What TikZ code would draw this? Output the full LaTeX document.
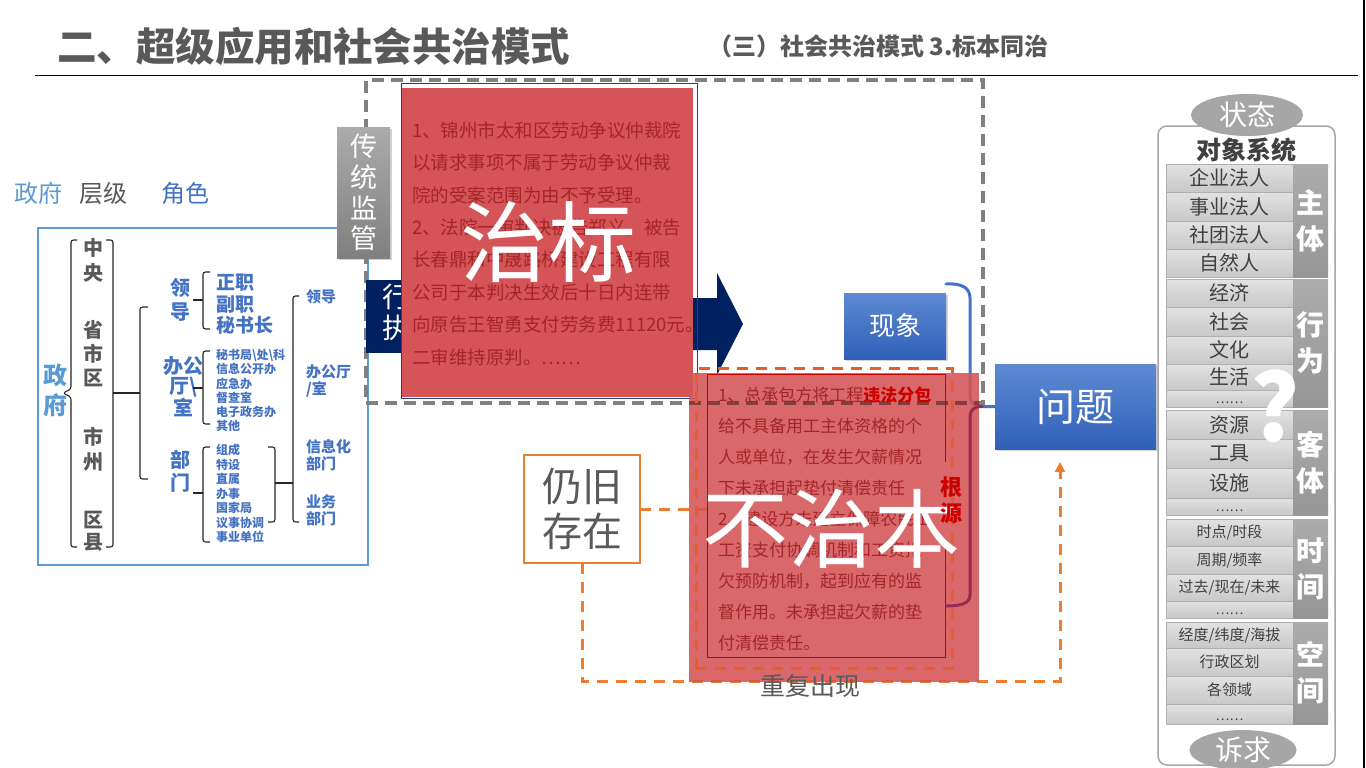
\documentclass[tikz,border=0pt]{standalone}
\usepackage{fontspec}
\setmainfont{Noto Sans CJK SC}
\usetikzlibrary{arrows.meta,shapes.geometric,shadows}
\definecolor{tgray}{HTML}{595959}
\definecolor{dgray}{HTML}{404040}
\definecolor{lblue}{HTML}{5B9BD5}
\definecolor{mblue}{HTML}{4472C4}
\definecolor{navy}{HTML}{002060}
\definecolor{boxred}{RGB}{212,84,87}
\definecolor{txtred}{RGB}{165,38,42}
\definecolor{vred}{RGB}{205,0,0}
\definecolor{brownline}{RGB}{135,60,60}
\definecolor{brpurple}{RGB}{150,42,82}
\definecolor{orng}{RGB}{237,125,49}
\definecolor{orng2}{RGB}{232,92,42}
\definecolor{dashgray}{RGB}{128,128,128}
\definecolor{celltop}{RGB}{226,226,226}
\definecolor{cellbot}{RGB}{200,200,200}
\definecolor{cellline}{RGB}{175,175,175}
\definecolor{labtop}{RGB}{172,172,172}
\definecolor{labbot}{RGB}{150,150,150}
\definecolor{ovalgray}{RGB}{166,166,166}
\definecolor{bluetop}{RGB}{93,138,210}
\definecolor{bluebot}{RGB}{48,96,185}
\begin{document}
\begin{tikzpicture}[x=1pt,y=-1pt,
  plain/.style={inner sep=0pt, outer sep=0pt},
  lvl/.style={plain, text=tgray, font=\bfseries\fontsize{20}{25}\selectfont, align=center},
  role/.style={plain, text=mblue, font=\bfseries\fontsize{20}{24}\selectfont, align=center},
  smitem/.style={plain, anchor=west, text=mblue, font=\bfseries\fontsize{12}{14.2}\selectfont, align=left},
  rtitem/.style={plain, anchor=west, text=mblue, font=\bfseries\fontsize{15}{17}\selectfont, align=left},
  brk/.style={draw=black!85, line width=1.1pt, rounded corners=2.5pt},
  tdash/.style={draw=dashgray, line width=3.2pt, dash pattern=on 12pt off 7pt},
  odash/.style={draw=orng, line width=3pt, dash pattern=on 11pt off 8pt},
  casea/.style={plain, anchor=west, text=txtred, font=\fontsize{18.5}{20}\selectfont},
  caseb/.style={plain, anchor=west, text=txtred, font=\fontsize{17}{20}\selectfont},
  bigw/.style={plain, text=white, font=\fontsize{86}{90}\selectfont},
  bluebox/.style={plain, top color=bluetop, bottom color=bluebot, text=white, drop shadow={opacity=0.35,shadow xshift=1.5pt,shadow yshift=-1.5pt}},
  cellbox/.style={plain, minimum width=127pt, top color=celltop, bottom color=cellbot, draw=cellline, line width=0.6pt, text=dgray},
  labcol/.style={plain, minimum width=35pt, top color=labtop, bottom color=labbot, text=white, font=\bfseries\fontsize{28}{36}\selectfont, align=center},
  ovalg/.style={plain, ellipse, fill=ovalgray, text=white, font=\fontsize{28}{30}\selectfont},
]
\fill[white] (0,0) rectangle (1366,768);
\useasboundingbox (0,0) rectangle (1366,768);

% header
\node[plain, anchor=west, text=tgray, font=\bfseries\fontsize{39.5}{42}\selectfont] (title) at (57,46) {二、超级应用和社会共治模式};
\node[plain, anchor=west, text=tgray, font=\bfseries\fontsize{24}{26}\selectfont] (sub) at (708,46) {（三）社会共治模式 3.标本同治};
\coordinate (rulel) at (35,76);
\coordinate (ruler) at (1358,76);
\draw[line width=1pt] (rulel) -- (ruler);
\coordinate (bordt) at (1364,0);
\coordinate (bordb) at (1364,768);
\draw[line width=1.2pt] (bordt) -- (bordb);

% left government section
\node[plain, text=lblue, font=\fontsize{24}{26}\selectfont] (h1) at (38,193) {政府};
\node[plain, text=tgray, font=\fontsize{24}{26}\selectfont] (h2) at (103,193) {层级};
\node[plain, text=mblue, font=\fontsize{24}{26}\selectfont] (h3) at (185,193) {角色};
\node[plain, draw=lblue, line width=1.5pt, minimum width=330pt, minimum height=337pt] (govbox) at (203,396.5) {};
\node[plain, text=lblue, font=\bfseries\fontsize{24}{30}\selectfont, align=center] (gov) at (55,390) {政\\府};
\node[lvl] (lv1) at (93,260.5) {中\\央};
\node[lvl, font=\bfseries\fontsize{20}{24}\selectfont] (lv2) at (93,354) {省\\市\\区};
\node[lvl] (lv3) at (93,449.5) {市\\州};
\node[lvl, font=\bfseries\fontsize{20}{22}\selectfont] (lv4) at (93,531) {区\\县};
\draw[brk] (77,240) -- (71,240) -- (71,389) -- (63,393) -- (71,397) -- (71,547) -- (77,547);
\draw[brk] (106,240) -- (113,240) -- (113,547) -- (106,547);
\draw[brk] (113,393) -- (140,393);
\draw[brk] (148,307) -- (140,307) -- (140,479) -- (148,479);
\node[role] (r1) at (180,300) {领\\导};
\node[role, font=\bfseries\fontsize{20}{20}\selectfont] (r2) at (183,387) {办公\\厅\textbackslash\\室};
\node[role, font=\bfseries\fontsize{20}{23}\selectfont] (r3) at (180,471.5) {部\\门};
\draw[brk] (193,300) -- (203,300);
\draw[brk] (210,272) -- (203,272) -- (203,329) -- (210,329);
\draw[brk] (193,388) -- (203,388);
\draw[brk] (210,351) -- (203,351) -- (203,424) -- (210,424);
\draw[brk] (193,493) -- (203,493);
\draw[brk] (210,447) -- (203,447) -- (203,542) -- (210,542);
\node[plain, anchor=west, text=mblue, font=\bfseries\fontsize{19}{21.5}\selectfont, align=left] (i1) at (216,304.5) {正职\\副职\\秘书长};
\node[smitem] (i2) at (216,390.5) {秘书局\textbackslash 处\textbackslash 科\\信息公开办\\应急办\\督查室\\电子政务办\\其他};
\node[smitem, font=\bfseries\fontsize{12}{14.5}\selectfont] (i3) at (216,493.5) {组成\\特设\\直属\\办事\\国家局\\议事协调\\事业单位};
\draw[brk] (268,447) -- (275,447) -- (275,522) -- (268,522);
\draw[brk] (275,483) -- (293,483);
\draw[brk] (299,296) -- (293,296) -- (293,522) -- (299,522);
\node[rtitem] (j1) at (306,297) {领导};
\node[rtitem] (j2) at (306,381) {办公厅\\/室};
\node[rtitem] (j3) at (306,455) {信息化\\部门};
\node[rtitem] (j4) at (306,510) {业务\\部门};

% traditional supervision frame
\node[plain, tdash, minimum width=617pt, minimum height=323pt] (trad) at (674.5,241.5) {};
\node[plain, top color=black!33, bottom color=black!50, text=white, minimum width=53pt, minimum height=131pt, font=\fontsize{27}{30.7}\selectfont, align=center, drop shadow={opacity=0.35,shadow xshift=1.5pt,shadow yshift=-1.5pt}] (ctjg) at (363.5,192.5) {传\\统\\监\\管};
\node[plain, fill=navy, minimum width=60pt, minimum height=73pt] (xz) at (396,316.5) {};
\node[plain, text=white, font=\fontsize{28}{31}\selectfont, align=center] (xzt) at (396,312.5) {行\\执};
\fill[navy] (600,298) -- (717,298) -- (717,273) -- (743,324) -- (717,375) -- (717,350) -- (600,350) -- cycle;

% case box 1 (治标)
\node[plain, draw=navy!85!white, line width=1pt, minimum width=296pt, minimum height=314pt] (zbo) at (549,241) {};
\node[plain, fill=boxred, minimum width=291pt, minimum height=309pt] (zb) at (547.5,242.5) {};
\foreach \t [count=\i] in {1、锦州市太和区劳动争议仲裁院,以请求事项不属于劳动争议仲裁,院的受案范围为由不予受理。,2、法院一审判决被告郑义，被告,长春鼎和中晟路桥建设工程有限,公司于本判决生效后十日内连带,向原告王智勇支付劳务费11120元。,二审维持原判。……}
  \node[casea] (za\i) at (412,{130+32.5*(\i-1)}) {\t};
\node[bigw, font=\fontsize{88}{90}\selectfont] (zbt) at (548,242) {治标};

% phenomenon / problem
\node[bluebox, minimum width=102pt, minimum height=66pt, font=\fontsize{26}{28}\selectfont] (xx) at (895,326) {现象};
\node[bluebox, minimum width=161pt, minimum height=85pt, font=\fontsize{39}{40}\selectfont] (wt) at (1075.5,406.5) {问题};
\coordinate (brtop) at (946,284);
\coordinate (brtip) at (982,406.5);
\coordinate (brbot) at (946,606);
\draw[mblue, line width=3pt, line cap=round] (brtop) .. controls (962,283) and (970,288) .. (970,298) -- (970,396) .. controls (970,403) and (974,406.5) .. (brtip) -- (wt.west);

% still existing
\node[plain, draw=orng, line width=2.5pt, fill=white, minimum width=116pt, minimum height=108pt, text=tgray, font=\fontsize{40}{45}\selectfont, align=center] (rj) at (582,509) {仍旧\\存在};
\coordinate (hbl) at (707,509);
\coordinate (loopc) at (1060,681);
\draw[odash] (rj.east) -- (hbl);
\draw[odash, -{Triangle[length=10pt,width=10pt]}, shorten >=13pt] (rj.south) |- (loopc) -- (loopc |- wt.south);

% case box 2 (不治本)
\node[plain, fill=boxred, fill opacity=0.88, minimum width=290pt, minimum height=309pt] (hb) at (834,527.5) {};
\begin{scope}
  \clip (hb.north west) rectangle (hb.south east);
  \draw[tdash, draw=brownline] (trad.north west) rectangle (trad.south east);
\end{scope}
\node[plain, draw=vred, line width=1pt, minimum width=238pt, minimum height=283pt] (hbi) at (826,515.5) {};
\node[plain, fill=boxred!88!white, minimum width=16pt, minimum height=86pt] (gyback) at (947,505) {};
\node[plain, odash, draw=orng2, minimum width=256pt, minimum height=300pt] (hbo) at (824,518) {};
\foreach \t [count=\i] in {{1、总承包方将工程\textcolor{vred}{\bfseries 违法分包}},给不具备用工主体资格的个,人或单位，在发生欠薪情况,下未承担起垫付清偿责任,2、建设方未建立保障农民工,工资支付协调机制和工资拖,欠预防机制，起到应有的监,督作用。未承担起欠薪的垫,付清偿责任。}
  \node[caseb] (hc\i) at (718,{395+31*(\i-1)}) {\t};
\node[bigw] (hbt) at (831,529) {不治本};
\node[plain, text=vred, font=\bfseries\fontsize{22}{26}\selectfont, align=center] (gy) at (951,500) {根\\源};
\draw[brpurple, line width=3pt, line cap=round] (brtip) .. controls (974,406.5) and (970,410) .. (970,417) -- (970,595) .. controls (970,603) and (962,606) .. (brbot);
\node[plain, text=tgray, font=\fontsize{25}{27}\selectfont] (cf) at (810,686) {重复出现};

% right panel
\node[plain, draw=ovalgray, line width=1.5pt, rounded corners=9pt, fill=white, minimum width=177pt, minimum height=639pt] (panel) at (1246.5,445.5) {};
\node[ovalg, minimum width=112pt, minimum height=42pt] (zt) at (1247,115) {状态};
\node[ovalg, minimum width=107pt, minimum height=40pt] (sq) at (1243,750) {诉求};
\node[plain, text=dgray, font=\bfseries\fontsize{25}{27}\selectfont] (dx) at (1246,150) {对象系统};
\foreach \ya/\yb/\t [count=\i] in {164/192/企业法人,192/221/事业法人,221/249/社团法人,249/277/自然人,279/307/经济,307/336/社会,336/364/文化,364/390/生活,410/439/资源,439/468/工具,468/498/设施}
  \node[cellbox, minimum height={(\yb-\ya)*1pt}, font=\fontsize{20}{22}\selectfont] (ca\i) at (1229.5,{(\ya+\yb)/2}) {\t};
\foreach \ya/\yb/\t [count=\i] in {519/546/{时点/时段},546/574/{周期/频率},574/601/{过去/现在/未来},622/648/{经度/纬度/海拔},648/676/行政区划,676/704/各领域}
  \node[cellbox, minimum height={(\yb-\ya)*1pt}, font=\fontsize{15}{17}\selectfont] (cb\i) at (1229.5,{(\ya+\yb)/2}) {\t};
\foreach \ya/\yb [count=\i] in {390/407,498/515,601/618,704/724}{
  \node[cellbox, minimum height={(\yb-\ya)*1pt}] (ce\i) at (1229.5,{(\ya+\yb)/2}) {};
  \node[plain, text=dgray, font=\fontsize{13}{14}\selectfont] (ct\i) at (1229.5,{\yb-4.5}) {……};
}
\node[labcol, minimum height=113pt] (lz) at (1310.5,220.5) {主\\体};
\node[labcol, minimum height=128pt] (lx) at (1310.5,343) {行\\为};
\node[labcol, minimum height=105pt] (lk) at (1310.5,462.5) {客\\体};
\node[labcol, minimum height=99pt] (ls) at (1310.5,568.5) {时\\间};
\node[labcol, minimum height=102pt] (lj) at (1310.5,673) {空\\间};
\node[plain, text=white, font=\bfseries\fontsize{92}{92}\selectfont] (qm) at (1275,406) {?};
\end{tikzpicture}
\end{document}
